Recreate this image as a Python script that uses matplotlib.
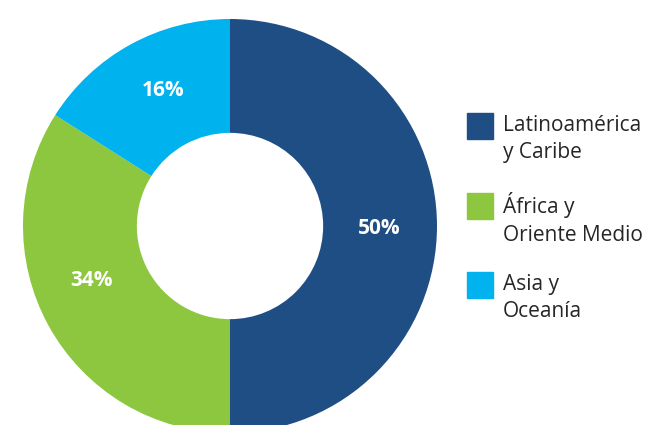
import matplotlib.pyplot as plt
from matplotlib.patches import Rectangle

regions = ["Latinoamérica\ny Caribe", "África y\nOriente Medio", "Asia y\nOceanía"]
shares = [50, 34, 16]
colors = ["#1F4E84", "#8DC63F", "#00B2EE"]

# where the percentage labels sit, in units of the outer radius
label_xy = [(0.72, -0.01), (-0.67, -0.265), (-0.325, 0.655)]

W, H = 649, 425
fig = plt.figure(figsize=(W / 100, H / 100), dpi=100)

# donut centred at (230, 226) px, radius 207 px
cx, cy, r = 230, 226, 207
ax = fig.add_axes([(cx - r) / W, (H - cy - r) / H, 2 * r / W, 2 * r / H])
wedges, _, autotexts = ax.pie(
    shares, colors=colors, startangle=90, counterclock=False,
    autopct="%d%%", pctdistance=0.725, radius=1,
    wedgeprops=dict(width=0.55, edgecolor="none"),
)
for t, xy in zip(autotexts, label_xy):
    t.set_position(xy)
    t.set_color("white")
    t.set_fontweight("bold")
    t.set_fontsize(15)
    t.set_family("Open Sans")
ax.set_xlim(-1, 1)
ax.set_ylim(-1, 1)
ax.set_aspect("equal")
ax.axis("off")

# legend drawn by hand on the right
rows = [126, 206, 285]
for label, col, y in zip(regions, colors, rows):
    fig.add_artist(Rectangle((467 / W, (H - y - 13) / H), 26 / W, 26 / H,
                             transform=fig.transFigure, color=col))
    fig.text(503 / W, (H - y - 13) / H, label, fontsize=15, family="Open Sans",
             color="#262626", va="center", linespacing=1.38)

fig.savefig("out.png", dpi=100)
